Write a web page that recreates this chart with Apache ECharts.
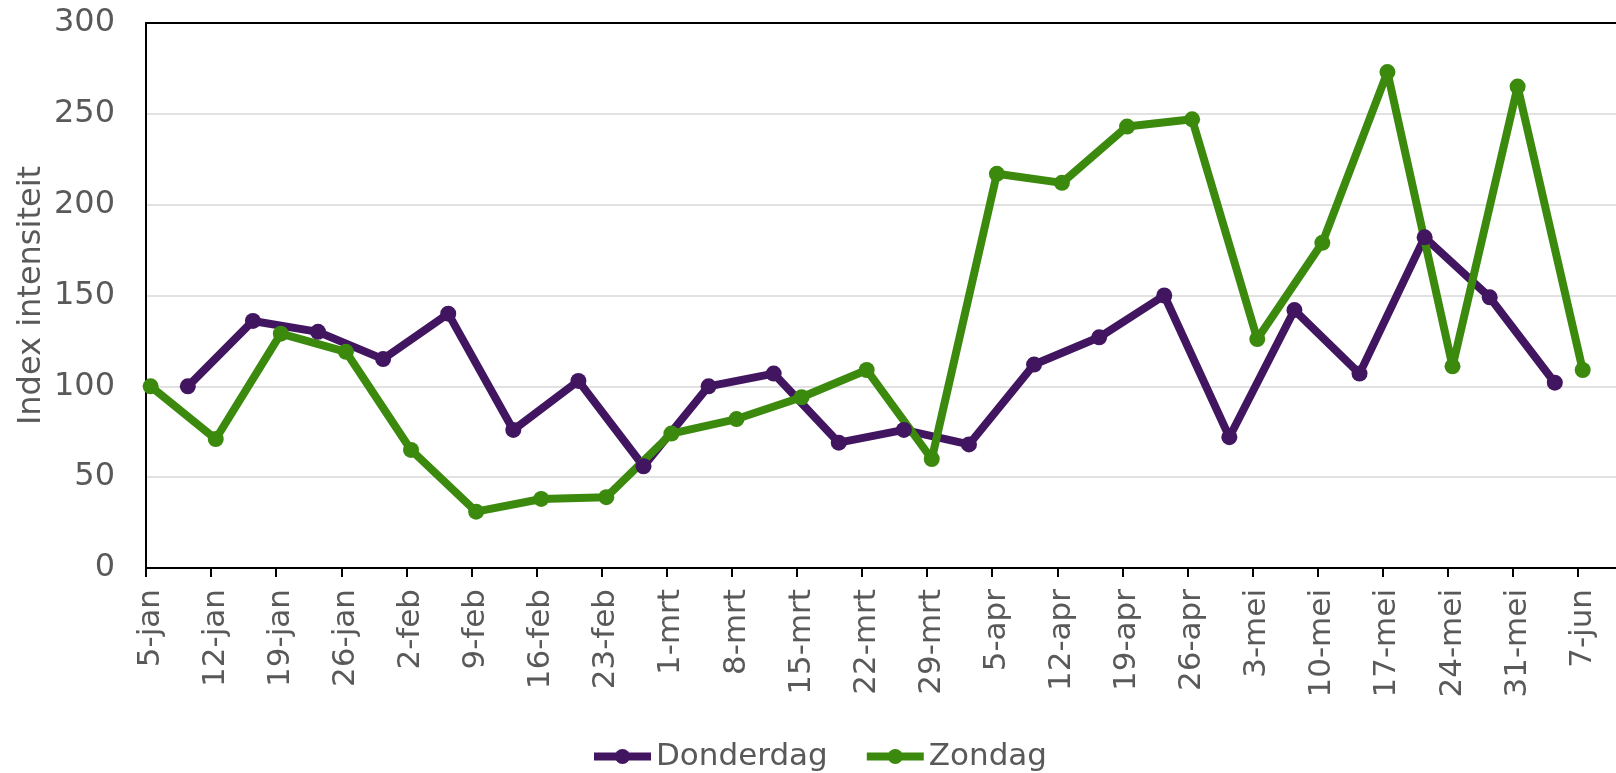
<!DOCTYPE html>
<html>
<head>
<meta charset="utf-8">
<title>Index intensiteit</title>
<script src="https://cdn.jsdelivr.net/npm/echarts@6/dist/echarts.min.js"></script>
<style>
	html, body { margin: 0; padding: 0; background: #fff; }
	#chart { width: 1616px; height: 773px; }
</style>
</head>
<body>
<div id="chart"></div>
<script>
// weken (zondagen), 2020
var weekLabels = ['5-jan','12-jan','19-jan','26-jan','2-feb','9-feb','16-feb','23-feb','1-mrt','8-mrt','15-mrt','22-mrt','29-mrt','5-apr','12-apr','19-apr','26-apr','3-mei','10-mei','17-mei','24-mei','31-mei','7-jun'];
// zondag: op de dag zelf, donderdag: 4 dagen na de zondag
var zondag = [100, 71, 129, 119, 65, 31, 38, 39, 74, 82, 94, 109, 60, 217, 212, 243, 247, 126, 179, 273, 111, 265, 109];
var donderdag = [100, 136, 130, 115, 140, 76, 103, 56, 100, 107, 69, 76, 68, 112, 127, 150, 72, 142, 107, 182, 149, 102];
var yTicks = [0, 50, 100, 150, 200, 250, 300];

(function(){
	var textColor = '#595959';
	var font = 'DejaVu Sans';
	var purple = '#41155f';
	var green = '#3b8a0e';
	var dayMax = 158.08; // as loopt door tot de rand van het beeld

	// dag-as: elke dag is een vak, tick aan het begin, punt en label in het midden
	var tickDays = [];
	var labelDays = [];
	for (var i = 0; i < weekLabels.length; i++) {
		tickDays.push(i * 7);
		labelDays.push(i * 7 + 0.5);
	}
	var zoData = [];
	for (var i = 0; i < zondag.length; i++) {
		zoData.push([i * 7 + 0.5, zondag[i]]);
	}
	var doData = [];
	for (var i = 0; i < donderdag.length; i++) {
		doData.push([i * 7 + 4 + 0.5, donderdag[i]]);
	}

	var myChart = echarts.init(document.getElementById('chart'));
	myChart.setOption({
		animation: false,
		textStyle: { fontFamily: font },
		grid: {
			left: 146,
			right: 0,
			top: 23,
			bottom: 205
		},
		legend: {
			top: 741,
			left: 590,
			padding: 0,
			itemWidth: 57,
			itemHeight: 19,
			itemGap: 35,
			lineStyle: { width: 8 },
			textStyle: { color: textColor, fontSize: 31, fontFamily: font },
			data: ['Donderdag', 'Zondag']
		},
		xAxis: [{
			type: 'value',
			min: 0,
			max: dayMax,
			axisLine: { show: true, lineStyle: { color: '#000', width: 2 } },
			axisTick: {
				show: true,
				length: 9,
				customValues: tickDays,
				lineStyle: { color: '#000', width: 2 }
			},
			splitLine: { show: false },
			axisLabel: {
				customValues: labelDays,
				rotate: 90,
				margin: 21,
				color: textColor,
				fontSize: 31,
				fontFamily: font,
				formatter: function(value){
					return weekLabels[Math.floor(value / 7)] || '';
				}
			}
		}, {
			// alleen de bovenrand van het plotvlak
			type: 'value',
			position: 'top',
			min: 0,
			max: dayMax,
			axisLine: { show: true, lineStyle: { color: '#000', width: 2 } },
			axisTick: { show: false },
			axisLabel: { show: false },
			splitLine: { show: false }
		}],
		yAxis: {
			type: 'value',
			min: yTicks[0],
			max: yTicks[yTicks.length - 1],
			interval: 50,
			name: 'Index intensiteit',
			nameLocation: 'middle',
			nameRotate: 90,
			nameGap: 98,
			nameMoveOverlap: false,
			nameTextStyle: { color: textColor, fontSize: 32, fontFamily: font },
			axisLine: { show: true, lineStyle: { color: '#000', width: 2 } },
			axisTick: { show: false },
			splitLine: { show: true, lineStyle: { color: '#d9d9d9', width: 1.5 } },
			axisLabel: { color: textColor, fontSize: 32, fontFamily: font, margin: 31 }
		},
		series: [{
			name: 'Donderdag',
			type: 'line',
			data: doData,
			symbol: 'circle',
			symbolSize: 16,
			color: purple,
			lineStyle: { width: 8, color: purple },
			itemStyle: { color: purple }
		}, {
			name: 'Zondag',
			type: 'line',
			data: zoData,
			symbol: 'circle',
			symbolSize: 16,
			color: green,
			lineStyle: { width: 8, color: green },
			itemStyle: { color: green }
		}]
	});
})();
</script>
</body>
</html>
